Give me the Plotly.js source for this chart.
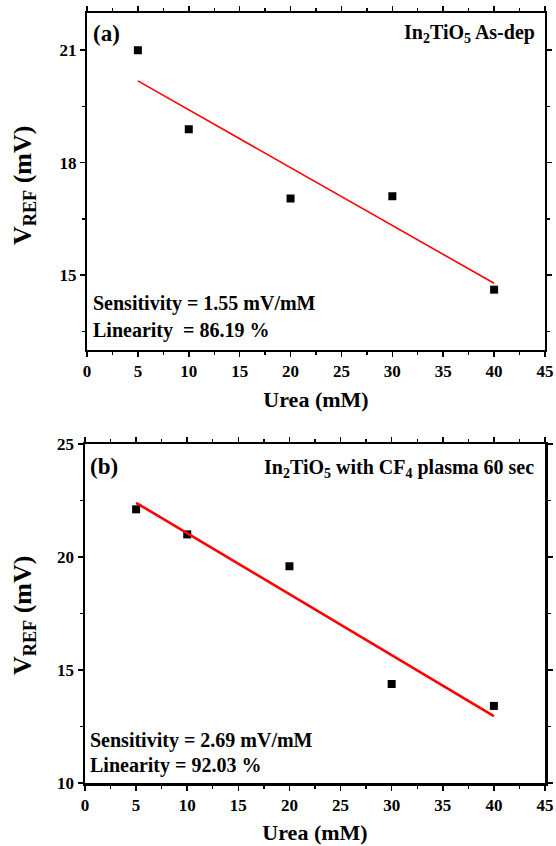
<!DOCTYPE html>
<html>
<head>
<meta charset="utf-8">
<script src="https://cdn.plot.ly/plotly-3.0.1.min.js"></script>
<style>html,body{margin:0;padding:0;background:#fff}#chart{width:556px;height:846px}</style>
</head>
<body>
<div id="chart"></div>
<script>
// ---- data ----
var ureaA = [5, 10, 20, 30, 40];
var vrefA = [21.0, 18.89, 17.04, 17.10, 14.61];
var fitXA = [5, 40];
var fitYA = [20.18, 14.78];

var ureaB = [5, 10, 20, 30, 40];
var vrefB = [22.11, 21.0, 19.59, 14.38, 13.41];
var fitXB = [5, 40];
var fitYB = [22.40, 12.96];

var xTicks = [0, 5, 10, 15, 20, 25, 30, 35, 40, 45];
var yTicksA = [15, 18, 21];
var yTicksB = [10, 15, 20, 25];

var labelA = "(a)";
var labelB = "(b)";
var titleA = "In<sub>2</sub>TiO<sub>5</sub> As-dep";
var titleB = "In<sub>2</sub>TiO<sub>5</sub> with CF<sub>4</sub> plasma 60 sec";
var sensA = "Sensitivity = 1.55 mV/mM";
var linA = "Linearity  = 86.19 %";
var sensB = "Sensitivity = 2.69 mV/mM";
var linB = "Linearity = 92.03 %";
var xTitle = "Urea (mM)";
var yTitle = "V<sub>REF</sub> (mV)";

var FONT = "Liberation Serif, Times New Roman, serif";
var W = 556, H = 846;
function px(x){return x / W;}
function py(y){return 1 - y / H;}
function bold(v){return '<b>' + v + '</b>';}

var traces = [
  {x: ureaA, y: vrefA, type: 'scatter', mode: 'markers', xaxis: 'x', yaxis: 'y',
   marker: {symbol: 'square', size: 8, color: '#000'}, showlegend: false},
  {x: fitXA, y: fitYA, type: 'scatter', mode: 'lines', xaxis: 'x', yaxis: 'y',
   line: {color: '#ff0000', width: 1.6}, showlegend: false},
  {x: ureaB, y: vrefB, type: 'scatter', mode: 'markers', xaxis: 'x2', yaxis: 'y2',
   marker: {symbol: 'square', size: 8, color: '#000'}, showlegend: false},
  {x: fitXB, y: fitYB, type: 'scatter', mode: 'lines', xaxis: 'x2', yaxis: 'y2',
   line: {color: '#ff0000', width: 2.6}, showlegend: false}
];

function xax(domain, anchor, lw){
  return {
    domain: domain, anchor: anchor, range: [0, 45],
    tickmode: 'array', tickvals: xTicks, ticktext: xTicks.map(bold),
    ticks: 'outside', ticklen: 5, tickwidth: 1.6, tickcolor: '#000',
    minor: {ticks: 'outside', ticklen: 3, tickwidth: 1.4, dtick: 2.5, tick0: 0, tickcolor: '#000'},
    showline: true, linecolor: '#000', linewidth: lw, mirror: 'ticks',
    showgrid: false, zeroline: false,
    tickfont: {family: FONT, size: 17, color: '#000'},
    title: {text: bold(xTitle), font: {family: FONT, size: 22, color: '#000'}, standoff: 11}
  };
}
function yax(domain, anchor, range, ticks, minorD, lw){
  return {
    domain: domain, anchor: anchor, range: range,
    tickmode: 'array', tickvals: ticks, ticktext: ticks.map(bold),
    ticks: 'outside', ticklen: 5, tickwidth: 1.6, tickcolor: '#000',
    minor: {ticks: 'outside', ticklen: 3, tickwidth: 1.4, dtick: minorD, tick0: 0, tickcolor: '#000'},
    showline: true, linecolor: '#000', linewidth: lw, mirror: 'ticks',
    showgrid: false, zeroline: false,
    tickfont: {family: FONT, size: 17, color: '#000'}
  };
}

function ann(text, x, y, size, xanchor){
  return {text: bold(text), x: px(x), y: py(y), xref: 'paper', yref: 'paper',
    xanchor: xanchor, yanchor: 'middle', showarrow: false,
    font: {family: FONT, size: size, color: '#000'}};
}
function yann(text, x, y){
  return {text: bold(text), x: px(x), y: py(y), xref: 'paper', yref: 'paper',
    xanchor: 'center', yanchor: 'middle', showarrow: false, textangle: -90,
    font: {family: FONT, size: 26, color: '#000'}};
}

var layout = {
  width: W, height: H,
  margin: {l: 0, r: 0, t: 0, b: 0},
  paper_bgcolor: '#fff', plot_bgcolor: '#fff',
  xaxis: xax([px(87), px(545)], 'y', 2),
  yaxis: yax([py(350), py(12.7)], 'x', [13, 22], yTicksA, 1.5, 2),
  xaxis2: xax([px(85), px(545)], 'y2', 2.5),
  yaxis2: yax([py(783), py(444)], 'x2', [10, 25], yTicksB, 2.5, 2.5),
  annotations: [
    ann(labelA, 91, 33, 23, 'left'),
    ann(titleA, 537, 34, 20, 'right'),
    ann(sensA, 91, 303, 20, 'left'),
    ann(linA, 91, 330, 20, 'left'),
    ann(labelB, 88, 466, 23, 'left'),
    ann(titleB, 536, 468, 20, 'right'),
    ann(sensB, 88, 740, 20, 'left'),
    ann(linB, 88, 765, 20, 'left'),
    yann(yTitle, 24, 186),
    yann(yTitle, 24, 616)
  ]
};

Plotly.newPlot('chart', traces, layout, {staticPlot: true, displayModeBar: false});
</script>
</body>
</html>
